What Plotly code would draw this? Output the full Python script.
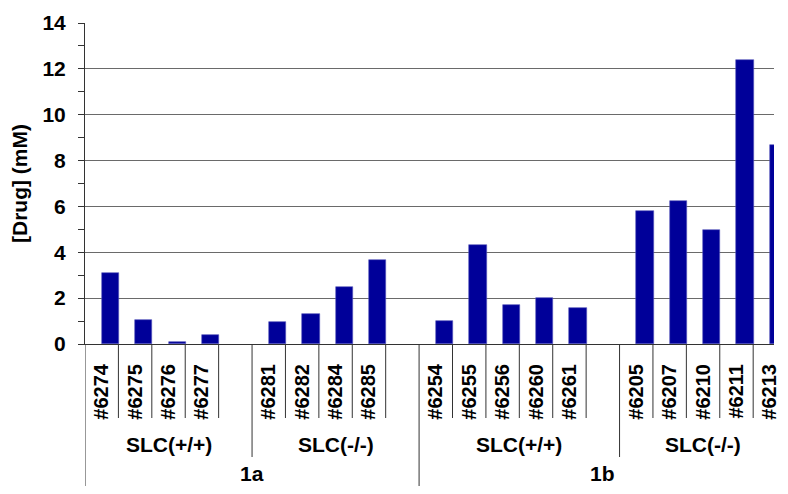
import plotly.graph_objects as go

# ---- data ----
cohorts = ["1a", "1a", "1b", "1b"]
genotypes = ["SLC(+/+)", "SLC(-/-)", "SLC(+/+)", "SLC(-/-)"]
group_samples = [
    ["#6274", "#6275", "#6276", "#6277"],
    ["#6281", "#6282", "#6284", "#6285"],
    ["#6254", "#6255", "#6256", "#6260", "#6261"],
    ["#6205", "#6207", "#6210", "#6211", "#6213"],
]
group_values = [
    [3.10, 1.03, 0.10, 0.41],
    [0.96, 1.31, 2.47, 3.68],
    [0.99, 4.30, 1.68, 2.00, 1.57],
    [5.80, 6.22, 4.99, 12.37, 8.68],
]
y_tick_values = [0, 2, 4, 6, 8, 10, 12, 14]
y_title = "[Drug] (mM)"

# ---- layout of slots (one empty slot after every genotype group but the last) ----
xs, names, vals = [], [], []
group_spans = []
pos = 0
for gi, (s_list, v_list) in enumerate(zip(group_samples, group_values)):
    start = pos - 0.5
    for s, v in zip(s_list, v_list):
        xs.append(pos)
        names.append(s)
        vals.append(v)
        pos += 1
    if gi < len(group_samples) - 1:
        pos += 1
    group_spans.append((start, pos - 0.5))

cohort_spans = {}
for c, (a, b) in zip(cohorts, group_spans):
    if c in cohort_spans:
        cohort_spans[c] = (cohort_spans[c][0], b)
    else:
        cohort_spans[c] = (a, b)

SLOT_PX = 33.7
LEFT = 77          # page body adds 8px offset -> axis at 85 in the window
TOP = 15
PLOT_H = 321
W = 772            # page content fits the window (8px body margin on each side)
H = 478
BOTTOM = H - TOP - PLOT_H
x_range = [-0.5, -0.5 + (W - LEFT) / SLOT_PX]   # original chart is cut at the right edge

FONT = "Liberation Sans, Arial, sans-serif"
BAR = "#000099"
LINE = "#333333"
GRID = "#6a6a6a"

def py(px_below_axis):
    return -px_below_axis / PLOT_H

fig = go.Figure()
fig.add_trace(go.Bar(
    x=xs, y=vals, offset=0, width=0.52,
    marker=dict(color=BAR, line=dict(color="#5555bb", width=0.6)),
    hoverinfo="x+y",
))

shapes = []
annotations = []
Y_SAMPLE = py(74)
Y_GENO = py(113)
Y_BOTTOM = py(160)
for x in xs:
    shapes.append(dict(type="line", xref="x", yref="paper", x0=x + 0.5, x1=x + 0.5,
                       y0=0, y1=Y_SAMPLE, line=dict(color=LINE, width=1)))
cohort_edges = set()
for a, b in cohort_spans.values():
    cohort_edges.add(a)
    cohort_edges.add(b)
for (a, b) in group_spans:
    if a not in cohort_edges:
        shapes.append(dict(type="line", xref="x", yref="paper", x0=a, x1=a,
                           y0=0, y1=Y_GENO, line=dict(color=LINE, width=1)))
for e in sorted(cohort_edges):
    shapes.append(dict(type="line", xref="x", yref="paper", x0=e, x1=e,
                       y0=0, y1=Y_BOTTOM, line=dict(color=LINE, width=1)))

lab_font = dict(family=FONT, size=21, color="black", weight="bold")
for g, (a, b) in zip(genotypes, group_spans):
    annotations.append(dict(x=(a + b) / 2, y=py(100), xref="x", yref="paper",
                            text=g, showarrow=False, xanchor="center", yanchor="middle",
                            font=lab_font))
for c, (a, b) in cohort_spans.items():
    annotations.append(dict(x=(a + b) / 2, y=py(129), xref="x", yref="paper",
                            text=c, showarrow=False, xanchor="center", yanchor="middle",
                            font=lab_font))

fig.update_layout(
    width=W, height=H,
    margin=dict(l=LEFT, r=0, t=TOP, b=BOTTOM, pad=0),
    plot_bgcolor="white", paper_bgcolor="white",
    showlegend=False,
    font=dict(family=FONT, size=21, color="black", weight="bold"),
    shapes=shapes, annotations=annotations,
    xaxis=dict(
        range=x_range, tickmode="array", tickvals=xs, ticktext=names,
        tickangle=-90, ticks="", showgrid=False, zeroline=False,
        showline=True, linecolor=LINE, linewidth=1,
        tickfont=dict(family=FONT, size=20, color="black", weight="bold"),
        ticklabelstandoff=11, fixedrange=True, ticklabeloverflow="allow",
    ),
    yaxis=dict(
        range=[0, 14], tickmode="array", tickvals=y_tick_values,
        showgrid=True, gridcolor=GRID, gridwidth=1.3,
        zeroline=False, showline=True, linecolor=LINE, linewidth=1,
        ticks="outside", ticklen=6, tickcolor=LINE, tickwidth=1,
        minor=dict(ticks="outside", ticklen=6, dtick=1, tick0=0, tickcolor=LINE, showgrid=False),
        tickfont=dict(family=FONT, size=21, color="black", weight="bold"),
        ticklabelstandoff=8,
        title=dict(text=y_title, standoff=10, font=lab_font),
    ),
    bargap=0,
)

fig.write_html("out.html")
